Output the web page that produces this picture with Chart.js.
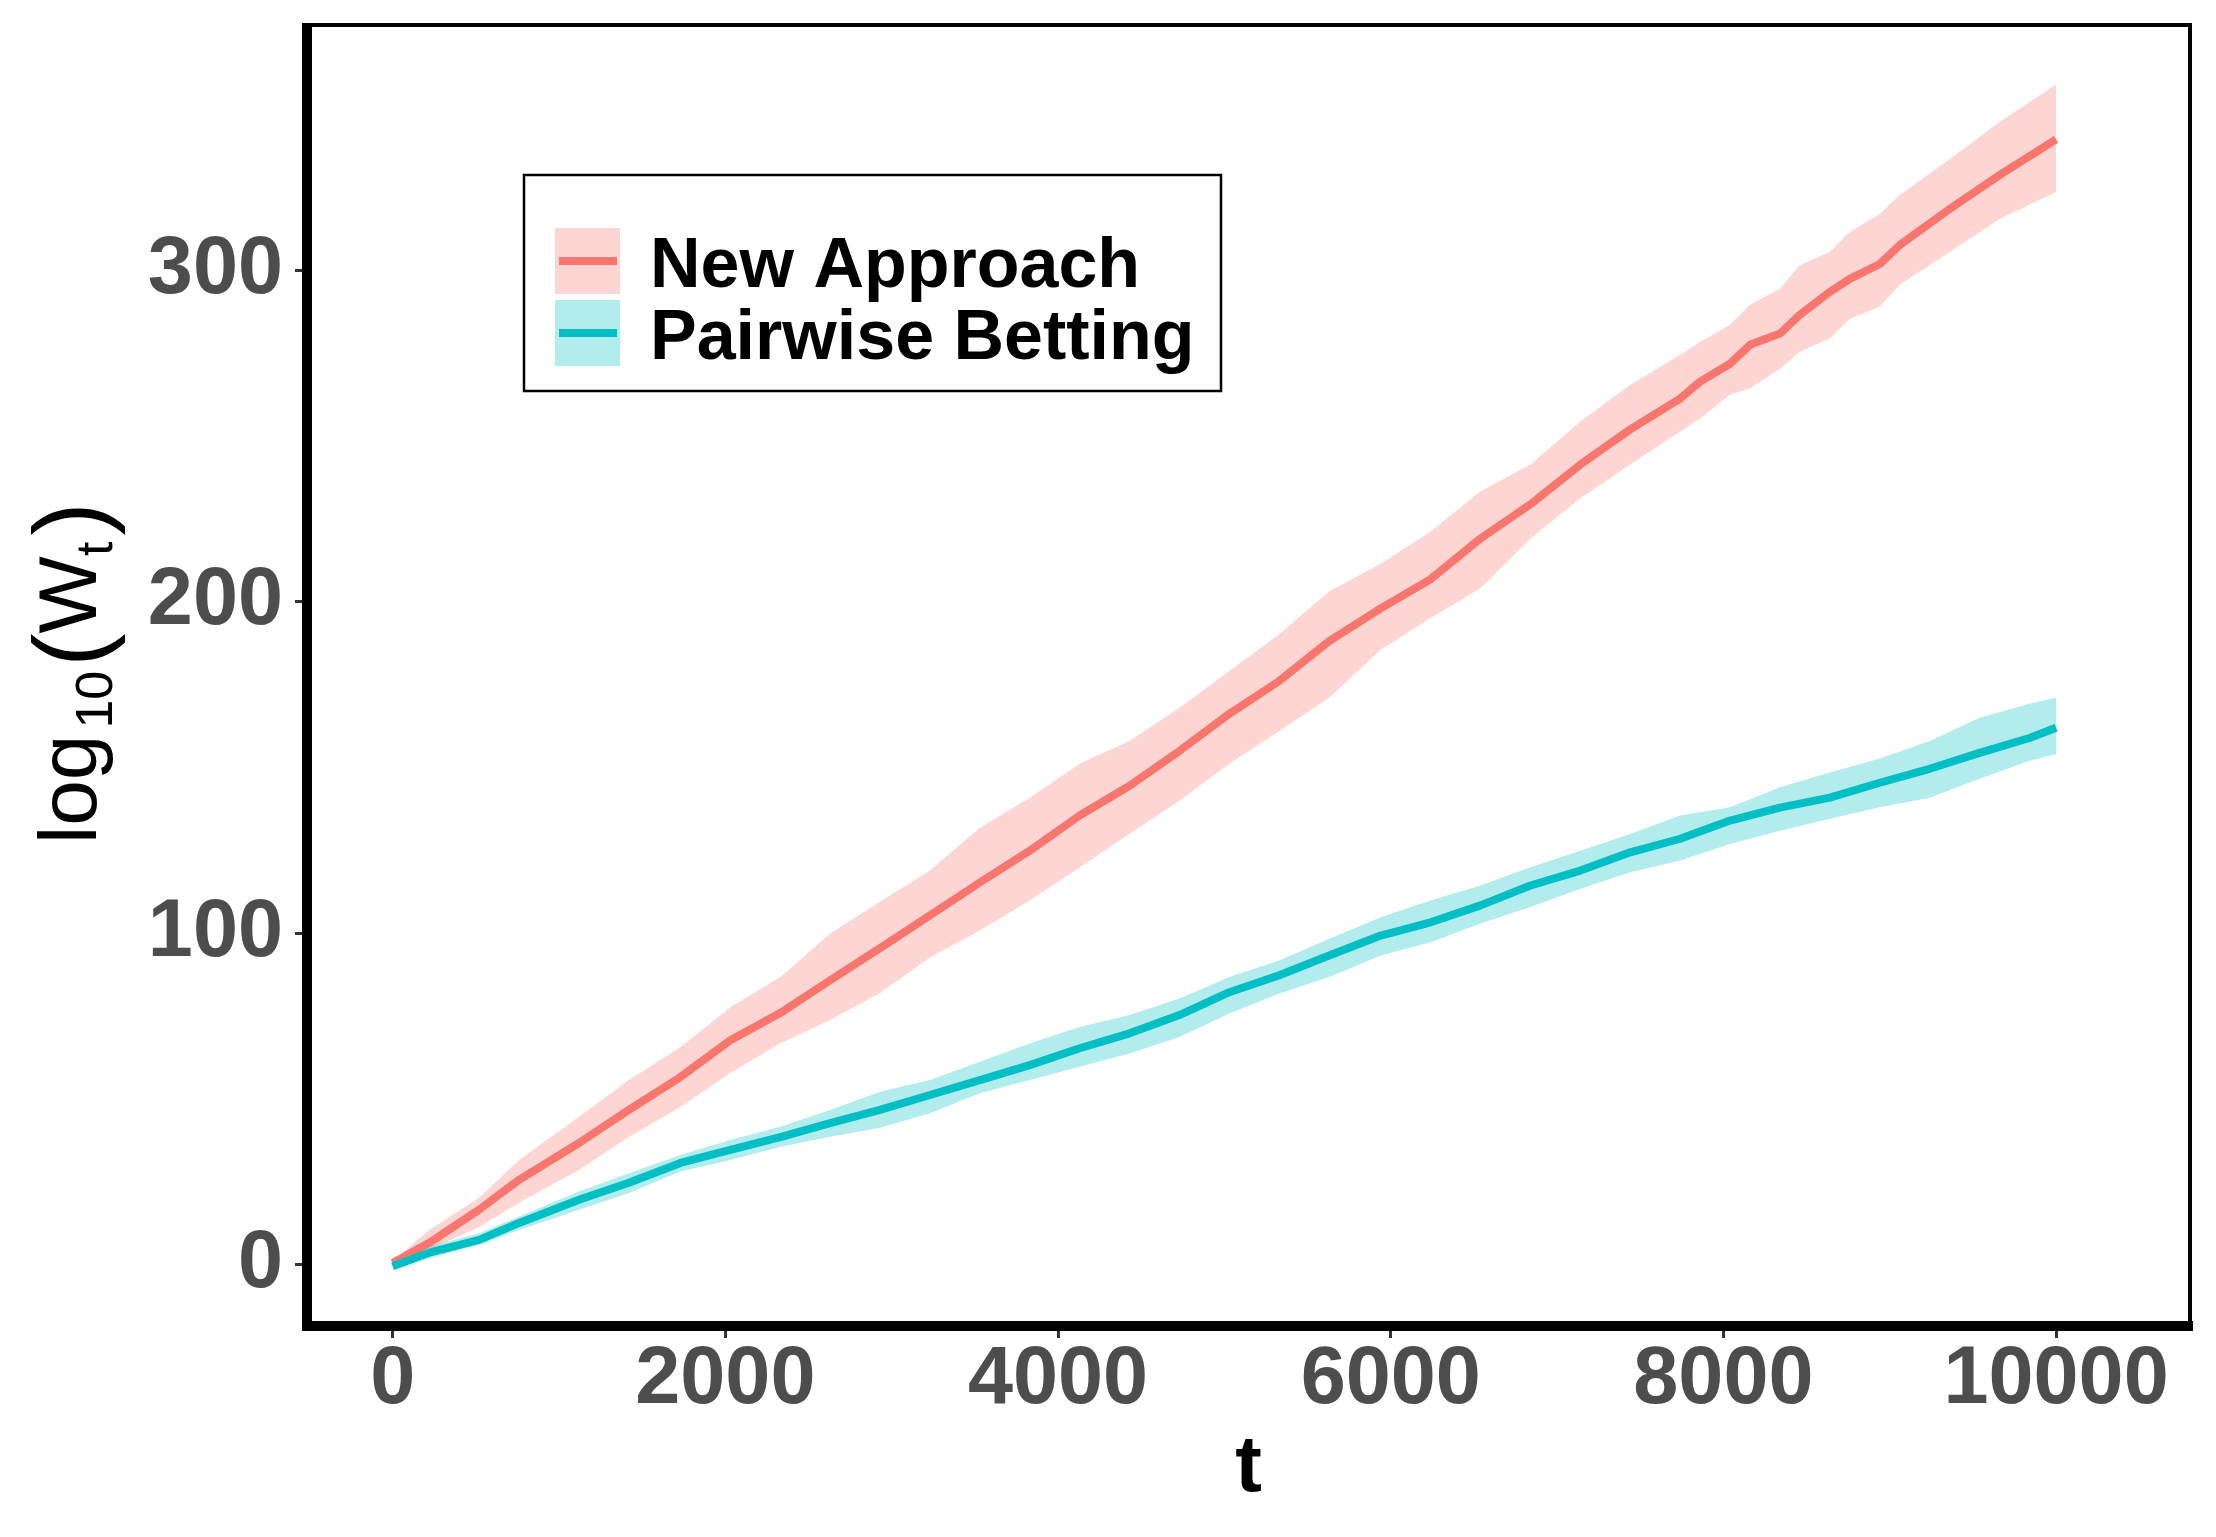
<!DOCTYPE html>
<html lang="en">
  <head>
    <meta charset="UTF-8" />
    <title>log10(Wt)</title>
    <script src="https://cdn.jsdelivr.net/npm/chart.js"></script>
    <style>
      html, body { margin: 0; padding: 0; background: #fff; }
      .chart-box { width: 2216px; height: 1537px; position: relative; }
    </style>
  </head>
  <body>
    <div class="chart-box">
      <canvas id="myChart"></canvas>
    </div>
    <script>
      // values
      const seriesNames = ["New Approach", "Pairwise Betting"];
      const xTicks = [0, 2000, 4000, 6000, 8000, 10000];
      const yTicks = [0, 100, 200, 300];

      const newT = [0, 220, 520, 760, 1120, 1420, 1730, 2030, 2330, 2630, 2930, 3230, 3530, 3830, 4130, 4430, 4730, 5030, 5330, 5630, 5940, 6240, 6540, 6840, 7140, 7440, 7740, 7860, 8040, 8160, 8340, 8460, 8640, 8760, 8940, 9060, 9360, 9660, 10000];
      const newMean = [0.5, 6.6, 16.6, 25.6, 36.7, 46.7, 56.6, 67.7, 75.9, 85.8, 95.5, 105.4, 115.3, 124.9, 135.5, 144.5, 155, 166.2, 176.1, 188.1, 198, 206.8, 219.1, 229.4, 241.4, 252, 261.3, 266.4, 271.8, 277.5, 280.9, 286.6, 293.5, 297.4, 301.9, 307.6, 318.5, 328.7, 339.5];
      const newLow = [0, 4.5, 11.4, 18.7, 28.6, 38.5, 47.6, 57.8, 66.8, 73.8, 82, 92.7, 100.8, 109.9, 119.8, 130, 140, 151.1, 161, 171, 185.5, 195.1, 204.1, 219.1, 231.2, 241.4, 251.4, 255.3, 262.5, 264.3, 270.3, 275.4, 279.4, 285.4, 289, 295.6, 305.5, 315.5, 323.6];
      const newHigh = [1, 10.5, 20.2, 31.6, 44.6, 55.7, 65.6, 77.7, 86.7, 99.9, 109.5, 118.9, 131.8, 140.9, 151.1, 158, 168, 179.1, 190.2, 203.2, 211.5, 221.2, 233.3, 241.4, 254.4, 265.5, 274.5, 278.4, 283.6, 289.6, 294.4, 301.6, 305.5, 311.6, 317, 322.7, 333.5, 344.7, 356.1];

      const pairT = [0, 220, 520, 760, 1120, 1420, 1730, 2030, 2330, 2630, 2930, 3230, 3530, 3830, 4130, 4430, 4730, 5030, 5330, 5630, 5940, 6240, 6540, 6840, 7140, 7440, 7740, 8040, 8340, 8640, 8940, 9240, 9540, 9840, 10000];
      const pairMean = [-0.5, 3.6, 7.5, 12.6, 19.6, 24.7, 30.7, 34.6, 38.5, 42.7, 46.7, 51.2, 55.7, 60.2, 65.3, 69.8, 75.3, 82.2, 87.3, 93.3, 99.3, 103.3, 108.4, 114.4, 118.9, 124.4, 128.5, 134, 137.9, 140.9, 145.4, 149.6, 154.4, 158.9, 162];
      const pairLow = [-1.5, 2, 6, 10.5, 16.6, 21.6, 28.1, 31.6, 35.6, 38.6, 41.3, 45.7, 51.7, 55.7, 59.7, 63.7, 68.7, 75.8, 81.8, 86.8, 93.3, 97.3, 102.9, 107.9, 113.4, 118.4, 121.9, 126.9, 130.9, 134.5, 138, 140.9, 146.6, 152, 154.1];
      const pairHigh = [0.5, 5.5, 9.5, 14.5, 22.1, 27.6, 33.1, 37.6, 41.6, 46.7, 52.2, 55.7, 61.2, 66.7, 71.7, 75.3, 80.3, 86.8, 91.8, 98.3, 104.8, 109.9, 114.4, 119.9, 124.9, 129.9, 135.5, 138, 144, 148.5, 152.7, 158, 165, 169.2, 171];

      const RED = "#F8766D";
      const RED_BAND = "rgba(248,118,109,0.3)";
      const CYAN = "#00BFC4";
      const CYAN_BAND = "rgba(0,191,196,0.3)";
      const FONT = '"Liberation Sans", Arial, Helvetica, sans-serif';

      const pts = function (xs, ys) {
        return xs.map(function (x, i) {
          return { x: x, y: ys[i] };
        });
      };

      const band = function (data, fill, color, order) {
        return {
          data: data,
          fill: fill,
          backgroundColor: color,
          borderWidth: 0,
          pointRadius: 0,
          tension: 0,
          order: order,
        };
      };

      const line = function (label, data, color, order) {
        return {
          label: label,
          data: data,
          borderColor: color,
          borderWidth: 8,
          borderJoinStyle: "round",
          pointRadius: 0,
          fill: false,
          tension: 0,
          order: order,
        };
      };

      // no extra room for edge labels: the panel is placed by hand
      const noPad = function (s) {
        s.paddingTop = 0;
        s.paddingBottom = 0;
        s.paddingLeft = 0;
        s.paddingRight = 0;
      };

      // frame, y title and legend, drawn like the ggplot figure
      const decor = {
        id: "decor",
        afterDraw: function (chart) {
          const c = chart.ctx;
          const a = chart.chartArea;
          c.save();
          c.strokeStyle = "#000";
          c.lineWidth = 4;
          c.strokeRect(a.left, a.top, a.right - a.left, a.bottom - a.top);
          c.fillStyle = "#000";
          c.fillRect(a.left - 5, a.top - 2, 10, a.bottom - a.top + 7);
          c.fillRect(a.left - 5, a.bottom - 5, a.right - a.left + 8, 10);

          // y title: log10(Wt)
          c.translate(96, 844);
          c.rotate(-Math.PI / 2);
          c.fillStyle = "#000";
          c.textBaseline = "alphabetic";
          let x = 0;
          const big = "82px " + FONT;
          const sub = "52px " + FONT;
          const par = "100px " + FONT;
          c.font = big;
          c.fillText("log", x, 0);
          x += c.measureText("log").width + 6;
          c.font = sub;
          c.fillText("10", x, 16);
          x += c.measureText("10").width + 4;
          c.font = par;
          c.fillText("(", x, 8);
          x += c.measureText("(").width;
          c.font = big;
          c.fillText("W", x, 0);
          x += c.measureText("W").width;
          c.font = sub;
          c.fillText("t", x, 16);
          x += c.measureText("t").width + 6;
          c.font = par;
          c.fillText(")", x, 8);
          c.restore();

          // legend
          c.save();
          c.fillStyle = "#fff";
          c.fillRect(524, 175, 697, 216);
          c.strokeStyle = "#000";
          c.lineWidth = 2.5;
          c.strokeRect(524, 175, 697, 216);
          const keys = [
            { name: seriesNames[0], band: RED_BAND, color: RED, top: 228 },
            { name: seriesNames[1], band: CYAN_BAND, color: CYAN, top: 300 },
          ];
          keys.forEach(function (k) {
            c.fillStyle = k.band;
            c.fillRect(555, k.top, 65, 66);
            c.fillStyle = k.color;
            c.fillRect(559, k.top + 29, 58, 8);
            c.fillStyle = "#000";
            c.font = "bold 70px " + FONT;
            c.textBaseline = "alphabetic";
            c.fillText(k.name, 650, k.top + 59);
          });
          c.restore();
        },
      };

      const plain = function (v) {
        return String(v);
      };

      const ctx = document.getElementById("myChart");
      const myChart = new Chart(ctx, {
        type: "line",
        data: {
          datasets: [
            band(pts(newT, newLow), false, RED_BAND, 3),
            band(pts(newT, newHigh), "-1", RED_BAND, 3),
            band(pts(pairT, pairLow), false, CYAN_BAND, 2),
            band(pts(pairT, pairHigh), "-1", CYAN_BAND, 2),
            line(seriesNames[0], pts(newT, newMean), RED, 1),
            line(seriesNames[1], pts(pairT, pairMean), CYAN, 0),
          ],
        },
        options: {
          responsive: true,
          maintainAspectRatio: false,
          devicePixelRatio: 1,
          animation: false,
          layout: { padding: { top: 25, right: 26, left: 0, bottom: 0 } },
          plugins: {
            legend: { display: false },
            tooltip: { enabled: false },
          },
          scales: {
            x: {
              type: "linear",
              min: -515,
              max: 10805,
              afterBuildTicks: function (s) {
                s.ticks = xTicks.map(function (v) { return { value: v }; });
              },
              afterFit: function (s) {
                s.height = 211;
                noPad(s);
              },
              grid: {
                drawOnChartArea: false,
                drawTicks: true,
                tickLength: 12,
                tickWidth: 3,
                tickColor: "#333333",
              },
              border: { display: false },
              ticks: {
                color: "#4D4D4D",
                padding: 2,
                maxRotation: 0,
                callback: plain,
                font: { family: FONT, size: 81, weight: "bold", lineHeight: 1 },
              },
              title: {
                display: true,
                text: "t",
                color: "#000",
                font: { family: FONT, size: 80, weight: "bold", lineHeight: 1.2 },
                padding: { top: 0, bottom: 20 },
              },
            },
            y: {
              type: "linear",
              min: -18.5,
              max: 374,
              afterBuildTicks: function (s) {
                s.ticks = yTicks.map(function (v) { return { value: v }; });
              },
              afterFit: function (s) {
                s.width = 307;
                noPad(s);
              },
              grid: {
                drawOnChartArea: false,
                drawTicks: true,
                tickLength: 12,
                tickWidth: 3,
                tickColor: "#333333",
              },
              border: { display: false },
              ticks: {
                color: "#4D4D4D",
                padding: 12,
                callback: plain,
                font: { family: FONT, size: 81, weight: "bold", lineHeight: 1 },
              },
            },
          },
        },
        plugins: [decor],
      });
    </script>
  </body>
</html>
